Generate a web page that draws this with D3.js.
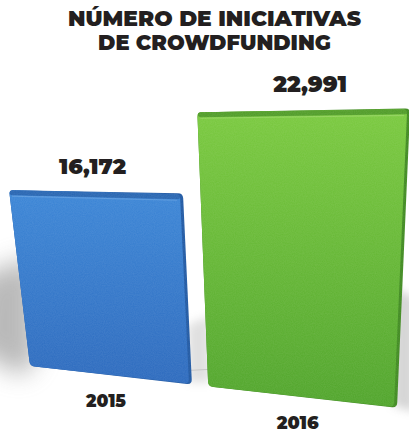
<!DOCTYPE html>
<html>
<head>
<meta charset="utf-8">
<script src="https://cdn.jsdelivr.net/npm/d3@7/dist/d3.min.js"></script>
<style>
  html, body { margin: 0; padding: 0; background: #ffffff; }
  svg { display: block; }
  .title, .value, .year { font-family: "Montserrat", "Lato", "Open Sans", sans-serif; font-weight: 900; fill: #231f20; }
</style>
</head>
<body>
<script>
// ---- data ----
const titleLines = ["NÚMERO DE INICIATIVAS", "DE CROWDFUNDING"];
const years = ["2015", "2016"];
const counts = [16172, 22991];
const valueLabels = ["16,172", "22,991"];
const barColors = [
  { top: "#3a85d6", bottom: "#2b69bd", edge: "#1f58a3", rim: "#6aa4e3" },
  { top: "#79c93d", bottom: "#4fa42a", edge: "#3f8a1f", rim: "#a0da6d" }
];

const W = 409, H = 436;
const svg = d3.select("body").append("svg").attr("width", W).attr("height", H);
const defs = svg.append("defs");

// ---- scales ----
// band position along the floor (0..1), then a perspective warp onto the screen
const xBand = d3.scaleBand().domain(years).range([0, 1]).paddingInner(0.085);
const hScale = d3.scaleLinear().domain([0, d3.max(counts)]).range([0, 250]);

// perspective helpers for the floor plane
const floorX = u => 30 + 313.3 * u + 53.7 * u * u;
const floorY = sx => 366 + 0.114 * (sx - 30);
const depth = sx => 1 + 0.00054 * (sx - 30);
const lean = sx => -0.119 + 0.000444 * (sx - 30);
function topPoint(sx, v) {
  const h = hScale(v) * depth(sx);
  return [sx + lean(sx) * h, floorY(sx) - h];
}

// ---- filters / gradients ----
const blur = defs.append("filter").attr("id", "shadowBlur")
  .attr("x", "-50%").attr("y", "-50%").attr("width", "200%").attr("height", "200%");
blur.append("feGaussianBlur").attr("stdDeviation", 12);
const blurSmall = defs.append("filter").attr("id", "shadowBlurSmall")
  .attr("x", "-50%").attr("y", "-50%").attr("width", "200%").attr("height", "200%");
blurSmall.append("feGaussianBlur").attr("stdDeviation", 5);

const grain = defs.append("filter").attr("id", "grain");
grain.append("feTurbulence").attr("type", "fractalNoise").attr("baseFrequency", 0.9)
  .attr("numOctaves", 2).attr("seed", 3).attr("result", "noise");
grain.append("feColorMatrix").attr("in", "noise").attr("type", "matrix")
  .attr("values", "0 0 0 0 1  0 0 0 0 1  0 0 0 0 1  0 0 0 0.10 0").attr("result", "n2");
grain.append("feComposite").attr("in", "n2").attr("in2", "SourceGraphic").attr("operator", "in");

barColors.forEach((c, i) => {
  const g = defs.append("linearGradient").attr("id", "fill" + i)
    .attr("x1", 0).attr("y1", 0).attr("x2", 0).attr("y2", 1);
  g.append("stop").attr("offset", "0%").attr("stop-color", c.top);
  g.append("stop").attr("offset", "100%").attr("stop-color", c.bottom);
});

// rounded polygon path
function roundedPath(pts, r) {
  const n = pts.length;
  let d = "";
  for (let i = 0; i < n; i++) {
    const p0 = pts[(i - 1 + n) % n], p1 = pts[i], p2 = pts[(i + 1) % n];
    const v1 = [p0[0] - p1[0], p0[1] - p1[1]], v2 = [p2[0] - p1[0], p2[1] - p1[1]];
    const l1 = Math.hypot(...v1), l2 = Math.hypot(...v2);
    const a = [p1[0] + v1[0] / l1 * r, p1[1] + v1[1] / l1 * r];
    const b = [p1[0] + v2[0] / l2 * r, p1[1] + v2[1] / l2 * r];
    d += (i === 0 ? "M" : "L") + a[0] + "," + a[1] + "Q" + p1[0] + "," + p1[1] + " " + b[0] + "," + b[1];
  }
  return d + "Z";
}

// ---- bar geometry ----
const bars = years.map((yr, i) => {
  const sxL = floorX(xBand(yr));
  const sxR = floorX(xBand(yr) + xBand.bandwidth());
  const bl = [sxL, floorY(sxL)], br = [sxR, floorY(sxR)];
  const tl = topPoint(sxL, counts[i]), tr = topPoint(sxR, counts[i]);
  return { yr, i, bl, br, tl, tr, pts: [tl, tr, br, bl] };
});

// soft cast shadows on the floor
const b0 = bars[0], b1 = bars[1];
svg.append("path")
  .attr("filter", "url(#shadowBlur)")
  .attr("d", d3.line()([
    [b0.bl[0] + 6, b0.bl[1] - 110],
    [b0.bl[0] + 6, b0.bl[1] - 4],
    [b0.bl[0] - 10, b0.bl[1] + 10],
    [b0.bl[0] - 60, b0.bl[1] - 20],
    [b0.bl[0] - 50, b0.bl[1] - 90]
  ]) + "Z")
  .attr("fill", "#8c8c8c").attr("opacity", 0.6);
svg.append("path")
  .attr("filter", "url(#shadowBlurSmall)")
  .attr("d", d3.line()([
    [b0.br[0] - 4, b0.br[1] - 60],
    [b1.bl[0] + 2, b1.bl[1] - 70],
    [b1.bl[0] + 2, b1.bl[1] - 4],
    [b0.br[0] - 4, b0.br[1] - 2]
  ]) + "Z")
  .attr("fill", "#9a9a9a").attr("opacity", 0.3);
svg.append("path")
  .attr("filter", "url(#shadowBlurSmall)")
  .attr("d", d3.line()([
    [b1.br[0] - 4, b1.br[1] - 120],
    [b1.br[0] + 18, b1.br[1] - 110],
    [b1.br[0] + 18, b1.br[1] + 4],
    [b1.br[0] - 4, b1.br[1] - 2]
  ]) + "Z")
  .attr("fill", "#8a8a8a").attr("opacity", 0.35);
// faint floor line between the bars
svg.append("line")
  .attr("x1", b0.br[0] - 4).attr("y1", b0.br[1] - 14)
  .attr("x2", b1.bl[0] + 2).attr("y2", b1.bl[1] - 17)
  .attr("stroke", "#c8c8c8").attr("stroke-width", 1);

// ---- bars ----
const barG = svg.append("g");
bars.forEach(b => {
  const c = barColors[b.i];
  const g = barG.append("g");
  const path = roundedPath(b.pts, 5);
  // right-side thickness
  g.append("path").attr("d", path).attr("fill", c.edge);
  // front face, inset from the right edge
  const inset = [
    [b.tl[0], b.tl[1]],
    [b.tr[0] - 3, b.tr[1] + 1],
    [b.br[0] - 3, b.br[1] - 1],
    [b.bl[0], b.bl[1]]
  ];
  g.append("path").attr("d", roundedPath(inset, 4)).attr("fill", `url(#fill${b.i})`);
  // top lip: darker band with a light rim below
  const lip = d3.line().curve(d3.curveBasis);
  g.append("path")
    .attr("d", lip([[b.tl[0] + 3, b.tl[1] + 2.5], [b.tr[0] - 5, b.tr[1] + 3.5]]))
    .attr("stroke", c.edge).attr("stroke-width", 5).attr("stroke-linecap", "round").attr("opacity", 0.7);
  g.append("path")
    .attr("d", lip([[b.tl[0] + 3, b.tl[1] + 6], [b.tr[0] - 6, b.tr[1] + 7]]))
    .attr("stroke", c.rim).attr("stroke-width", 1.2).attr("opacity", 0.6);
  // surface grain
  g.append("path").attr("d", path).attr("fill", "#ffffff").attr("filter", "url(#grain)");
});

// ---- labels ----
const fitText = (sel, target) => {
  const len = sel.node().getComputedTextLength();
  const fs = parseFloat(sel.attr("font-size"));
  sel.attr("font-size", fs * target / len);
};

const titleWidths = [293, 233];
titleLines.forEach((t, i) => {
  const s = svg.append("text").attr("class", "title")
    .attr("x", W / 2 + 10).attr("y", 26 + i * 24)
    .attr("text-anchor", "middle").attr("font-size", 21).text(t);
  fitText(s, titleWidths[i]);
});

// value labels sit above the top edge of each bar
const labelAnchor = [0.48, 0.53];
const valueWidths = [67, 74];
bars.forEach(b => {
  const cx = b.tl[0] + (b.tr[0] - b.tl[0]) * labelAnchor[b.i];
  const s = svg.append("text").attr("class", "value")
    .attr("x", cx).attr("y", Math.min(b.tl[1], b.tr[1]) - 16)
    .attr("text-anchor", "middle").attr("font-size", 22).text(valueLabels[b.i]);
  fitText(s, valueWidths[b.i]);
});

// year labels sit on the floor below each bar
const yearWidths = [40, 42];
bars.forEach(b => {
  const cx = (b.bl[0] + b.br[0]) / 2 - 5;
  const s = svg.append("text").attr("class", "year")
    .attr("x", cx).attr("y", floorY(cx) + 32)
    .attr("text-anchor", "middle").attr("font-size", 16).text(b.yr);
  fitText(s, yearWidths[b.i]);
});
</script>
</body>
</html>
